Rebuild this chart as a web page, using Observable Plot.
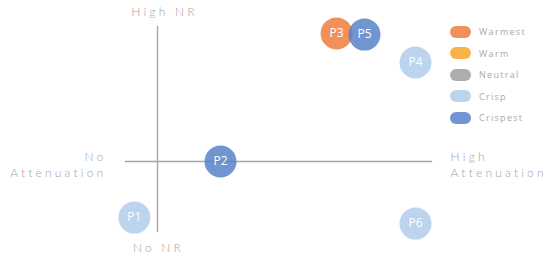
<!DOCTYPE html>
<html>
<head>
<meta charset="utf-8">
<script src="https://cdn.jsdelivr.net/npm/d3@7"></script>
<script src="https://cdn.jsdelivr.net/npm/@observablehq/plot@0.6"></script>
<style>
  html, body { margin: 0; padding: 0; background: #fff; }
  #wrap { position: relative; width: 550px; height: 257px; overflow: hidden; }
  g[font-family="Lato"] text, g[font-family="Lato"] tspan { letter-spacing: 3.2px; }
  #legend { position: absolute; left: 450px; top: 21px; font-family: "Open Sans", sans-serif; font-size: 9px; color: #a9a9a9; letter-spacing: 1.3px; }
  .row { height: 21.5px; display: flex; align-items: center; }
  .sw { width: 21px; height: 12px; border-radius: 6px; margin-right: 8px; }
</style>
</head>
<body>
<div id="wrap"></div>
<script>
// Categories & colours
const categories = ["Warmest", "Warm", "Neutral", "Crisp", "Crispest"];
const colors = ["#EE7D3D", "#F8A52A", "#A0A0A0", "#B1CCEB", "#5783C8"];

// Products (attenuation vs noise reduction)
const names = ["P1", "P2", "P3", "P4", "P5", "P6"];
const attenuation = [-0.77, 2.1, 5.97, 8.6, 6.9, 8.6];
const noiseReduction = [-1.87, 0, 4.27, 3.3, 4.23, -2.07];
const tone = ["Crisp", "Crispest", "Warmest", "Crisp", "Crispest", "Crisp"];

// Axis end labels
const axisLabels = ["High NR", "No NR", "No\nAttenuation", "High\nAttenuation"];

// Axis extents (data units)
const xExtent = [-1.07, 9.17];
const yExtent = [-2.37, 4.5];

const data = names.map((n, i) => ({name: n, x: attenuation[i], y: noiseReduction[i], tone: tone[i]}));

const labelColor = "#a3a3a3";
const lbl = {fontSize: 12, fill: labelColor, fontFamily: "Lato", fontWeight: 300, lineHeight: 1.35};
const chart = Plot.plot({
  width: 550,
  height: 257,
  margin: 0,
  x: {domain: [-1, 9], range: [127, 427], axis: null},
  y: {domain: [-2, 4], range: [221, 41], axis: null},
  color: {domain: categories, range: colors},
  style: {fontFamily: "'Open Sans', sans-serif", background: "#fff", overflow: "visible"},
  marks: [
    Plot.ruleX([0], {y1: yExtent[0], y2: yExtent[1], stroke: "#a6a6a6", strokeWidth: 1.4}),
    Plot.ruleY([0], {x1: xExtent[0], x2: xExtent[1], stroke: "#a6a6a6", strokeWidth: 1.4}),
    Plot.text([axisLabels[0]], {x: 0, y: yExtent[1], text: d => d, dy: -16, dx: 7, ...lbl}),
    Plot.text([axisLabels[1]], {x: 0, y: yExtent[0], text: d => d, dy: 14, dx: 1, ...lbl}),
    Plot.text([axisLabels[2]], {x: xExtent[0], y: 0, text: d => d, dx: -19, dy: 2, textAnchor: "end", ...lbl}),
    Plot.text([axisLabels[3]], {x: xExtent[1], y: 0, text: d => d, dx: 18, dy: 2, textAnchor: "start", ...lbl}),
    Plot.dot(data, {x: "x", y: "y", r: 16, fill: "tone", fillOpacity: 0.85, stroke: "none"}),
    Plot.text(data, {x: "x", y: "y", text: "name", fill: "white", fontSize: 12, fontFamily: "Open Sans"})
  ]
});
const wrap = document.getElementById("wrap");
wrap.appendChild(chart);

const legend = document.createElement("div");
legend.id = "legend";
categories.forEach((c, i) => {
  const row = document.createElement("div");
  row.className = "row";
  const sw = document.createElement("div");
  sw.className = "sw";
  sw.style.background = colors[i];
  sw.style.opacity = 0.85;
  const t = document.createElement("span");
  t.textContent = c;
  row.appendChild(sw);
  row.appendChild(t);
  legend.appendChild(row);
});
wrap.appendChild(legend);
</script>
</body>
</html>
